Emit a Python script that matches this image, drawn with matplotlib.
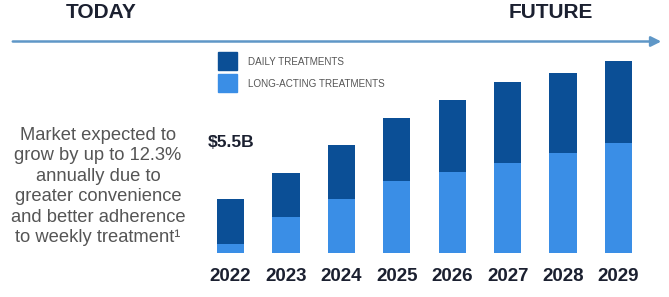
import matplotlib
matplotlib.use("Agg")
import matplotlib.pyplot as plt
import numpy as np
from matplotlib.patches import Rectangle, FancyArrowPatch

plt.rcParams['font.family'] = ['Liberation Sans', 'DejaVu Sans']

# market size in $B
years = ['2022', '2023', '2024', '2025', '2026', '2027', '2028', '2029']
long_acting = [0.87, 3.7, 5.55, 7.4, 8.3, 9.2, 10.2, 11.3]
daily = [4.63, 4.5, 5.5, 6.4, 7.4, 8.3, 8.3, 8.4]
label_2022 = '$5.5B'

dark = '#0b4f96'
light = '#3a8ee6'
grey = '#555555'
navy = '#1b2030'

W, H = 669, 297
fig = plt.figure(figsize=(W / 100, H / 100), dpi=100)

# bar axes
ax = fig.add_axes([202.8 / W, (H - 252.5) / H, 443.4 / W, 194.5 / H])
x = np.arange(len(years))
ax.bar(x, long_acting, width=0.49, color=light, label='LONG-ACTING TREATMENTS')
ax.bar(x, daily, width=0.49, bottom=long_acting, color=dark, label='DAILY TREATMENTS')
ax.set_xlim(-0.5, len(years) - 0.5)
ax.set_ylim(0, 20)
ax.set_xticks(x)
ax.set_xticklabels(years, fontsize=13.5, fontweight='bold', color=navy)
ax.tick_params(axis='x', length=0, pad=11)
ax.set_yticks([])
for s in ax.spines.values():
    s.set_visible(False)

# value label
fig.text(208 / W, 1 - 143 / H, label_2022, fontsize=12.5, fontweight='bold',
         color=navy, ha='left', va='center')

# legend (hand drawn to match spacing)
for yy, col, txt in [(52, dark, 'DAILY TREATMENTS'), (74, light, 'LONG-ACTING TREATMENTS')]:
    fig.patches.append(Rectangle((218 / W, 1 - (yy + 18) / H), 19 / W, 18 / H,
                                 transform=fig.transFigure, color=col))
    fig.text(248 / W, 1 - (yy + 10) / H, txt, fontsize=7.1, color=grey,
             ha='left', va='center')

# timeline arrow
fig.add_artist(FancyArrowPatch(
    (10 / W, 1 - 41.5 / H), (664 / W, 1 - 41.5 / H), transform=fig.transFigure,
    arrowstyle='-|>,head_length=0.6,head_width=0.3', mutation_scale=10,
    color='#5f97c7', lw=1.8))
fig.text(101 / W, 1 - 13 / H, 'TODAY', fontsize=15, fontweight='bold',
         color=navy, ha='center', va='center')
fig.text(551 / W, 1 - 13 / H, 'FUTURE', fontsize=15, fontweight='bold',
         color=navy, ha='center', va='center')

# side note
lines = ['Market expected to', 'grow by up to 12.3%', 'annually due to',
         'greater convenience', 'and better adherence', 'to weekly treatment\u00b9']
for i, t in enumerate(lines):
    fig.text(98 / W, 1 - (135 + 20.6 * i) / H, t, fontsize=13.2, color=grey,
             ha='center', va='center')

fig.savefig('out.png', dpi=100)
